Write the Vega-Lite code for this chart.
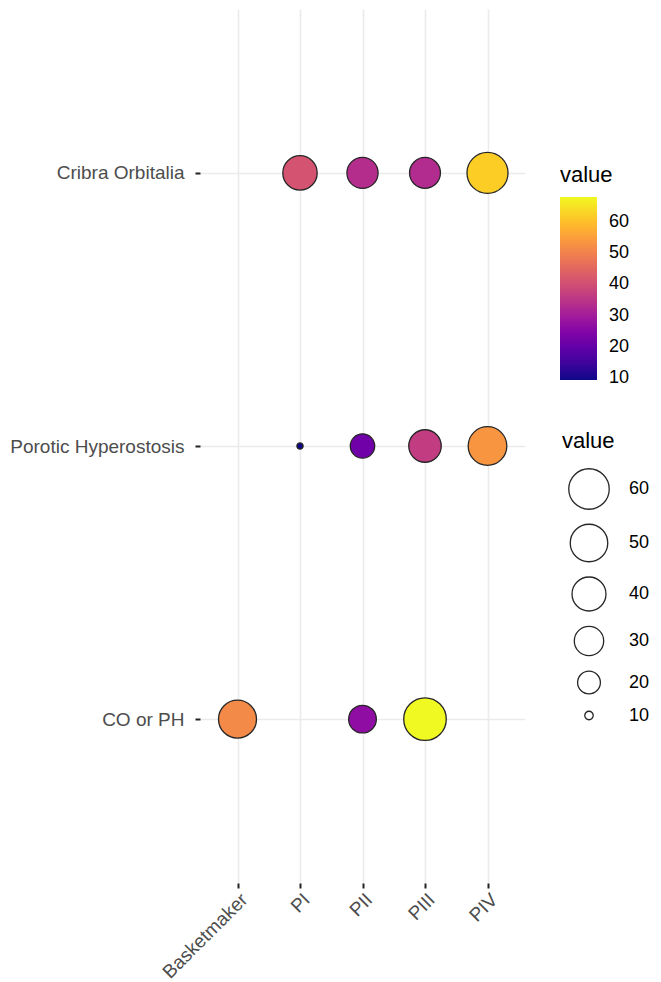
{
  "$schema": "https://vega.github.io/schema/vega-lite/v6.json",
  "width": 325,
  "height": 874,
  "autosize": {"type": "none"},
  "padding": {"left": 200, "top": 9, "right": 136, "bottom": 99},
  "background": "white",
  "config": {"view": {"stroke": null}, "font": "Liberation Sans"},
  "data": {
    "values": [
      {"condition": "Cribra Orbitalia", "period": "PI", "value": 41},
      {"condition": "Cribra Orbitalia", "period": "PII", "value": 33.5},
      {"condition": "Cribra Orbitalia", "period": "PIII", "value": 33},
      {"condition": "Cribra Orbitalia", "period": "PIV", "value": 62},
      {"condition": "Porotic Hyperostosis", "period": "PI", "value": 9.4},
      {"condition": "Porotic Hyperostosis", "period": "PII", "value": 22},
      {"condition": "Porotic Hyperostosis", "period": "PIII", "value": 36.5},
      {"condition": "Porotic Hyperostosis", "period": "PIV", "value": 53.5},
      {"condition": "CO or PH", "period": "Basketmaker", "value": 51.5},
      {"condition": "CO or PH", "period": "PII", "value": 27},
      {"condition": "CO or PH", "period": "PIII", "value": 68}
    ]
  },
  "mark": {"type": "circle", "stroke": "#262626", "strokeWidth": 1.3, "opacity": 1},
  "encoding": {
    "x": {
      "field": "period",
      "type": "nominal",
      "sort": ["Basketmaker", "PI", "PII", "PIII", "PIV"],
      "scale": {"type": "point", "padding": 0.6},
      "axis": {
        "title": null,
        "domain": false,
        "grid": true,
        "gridColor": "#ebebeb",
        "gridWidth": 1.6,
        "ticks": true,
        "tickColor": "#222222",
        "tickSize": 5,
        "tickWidth": 2,
        "labelAngle": -45,
        "labelAlign": "right",
        "labelBaseline": "top",
        "labelPadding": 2,
        "labelFontSize": 19,
        "labelColor": "#4d4d4d"
      }
    },
    "y": {
      "field": "condition",
      "type": "nominal",
      "sort": ["Cribra Orbitalia", "Porotic Hyperostosis", "CO or PH"],
      "scale": {"type": "point", "padding": 0.6},
      "axis": {
        "title": null,
        "domain": false,
        "grid": true,
        "gridColor": "#ebebeb",
        "gridWidth": 1.6,
        "ticks": true,
        "tickColor": "#222222",
        "tickSize": 5,
        "tickWidth": 2,
        "labelPadding": 11,
        "labelFontSize": 19,
        "labelColor": "#4d4d4d"
      }
    },
    "color": {
      "field": "value",
      "type": "quantitative",
      "scale": {"scheme": "plasma", "domain": [9.4, 68]},
      "legend": {
        "type": "gradient",
        "orient": "none",
        "legendX": 360,
        "legendY": 156,
        "direction": "vertical",
        "gradientLength": 183,
        "gradientThickness": 37,
        "gradientStrokeWidth": 0,
        "values": [10, 20, 30, 40, 50, 60],
        "title": "value",
        "titleFontSize": 22,
        "titleFontWeight": "normal",
        "titleColor": "#000000",
        "titlePadding": 10,
        "labelFontSize": 18,
        "labelColor": "#000000",
        "labelOffset": 12
      }
    },
    "size": {
      "field": "value",
      "type": "quantitative",
      "scale": {"type": "sqrt", "domain": [9.39, 68], "range": [38, 1810], "zero": false},
      "legend": {
        "orient": "none",
        "legendX": 362,
        "legendY": 422,
        "values": [60, 50, 40, 30, 20, 10],
        "title": "value",
        "titleFontSize": 22,
        "titleFontWeight": "normal",
        "titleColor": "#000000",
        "titlePadding": 15,
        "labelFontSize": 18,
        "labelColor": "#000000",
        "labelOffset": 19,
        "symbolOffset": 6,
        "rowPadding": 9.5,
        "symbolType": "circle",
        "symbolFillColor": "white",
        "symbolStrokeColor": "#262626",
        "symbolStrokeWidth": 1.3,
        "symbolOpacity": 1
      }
    }
  }
}
